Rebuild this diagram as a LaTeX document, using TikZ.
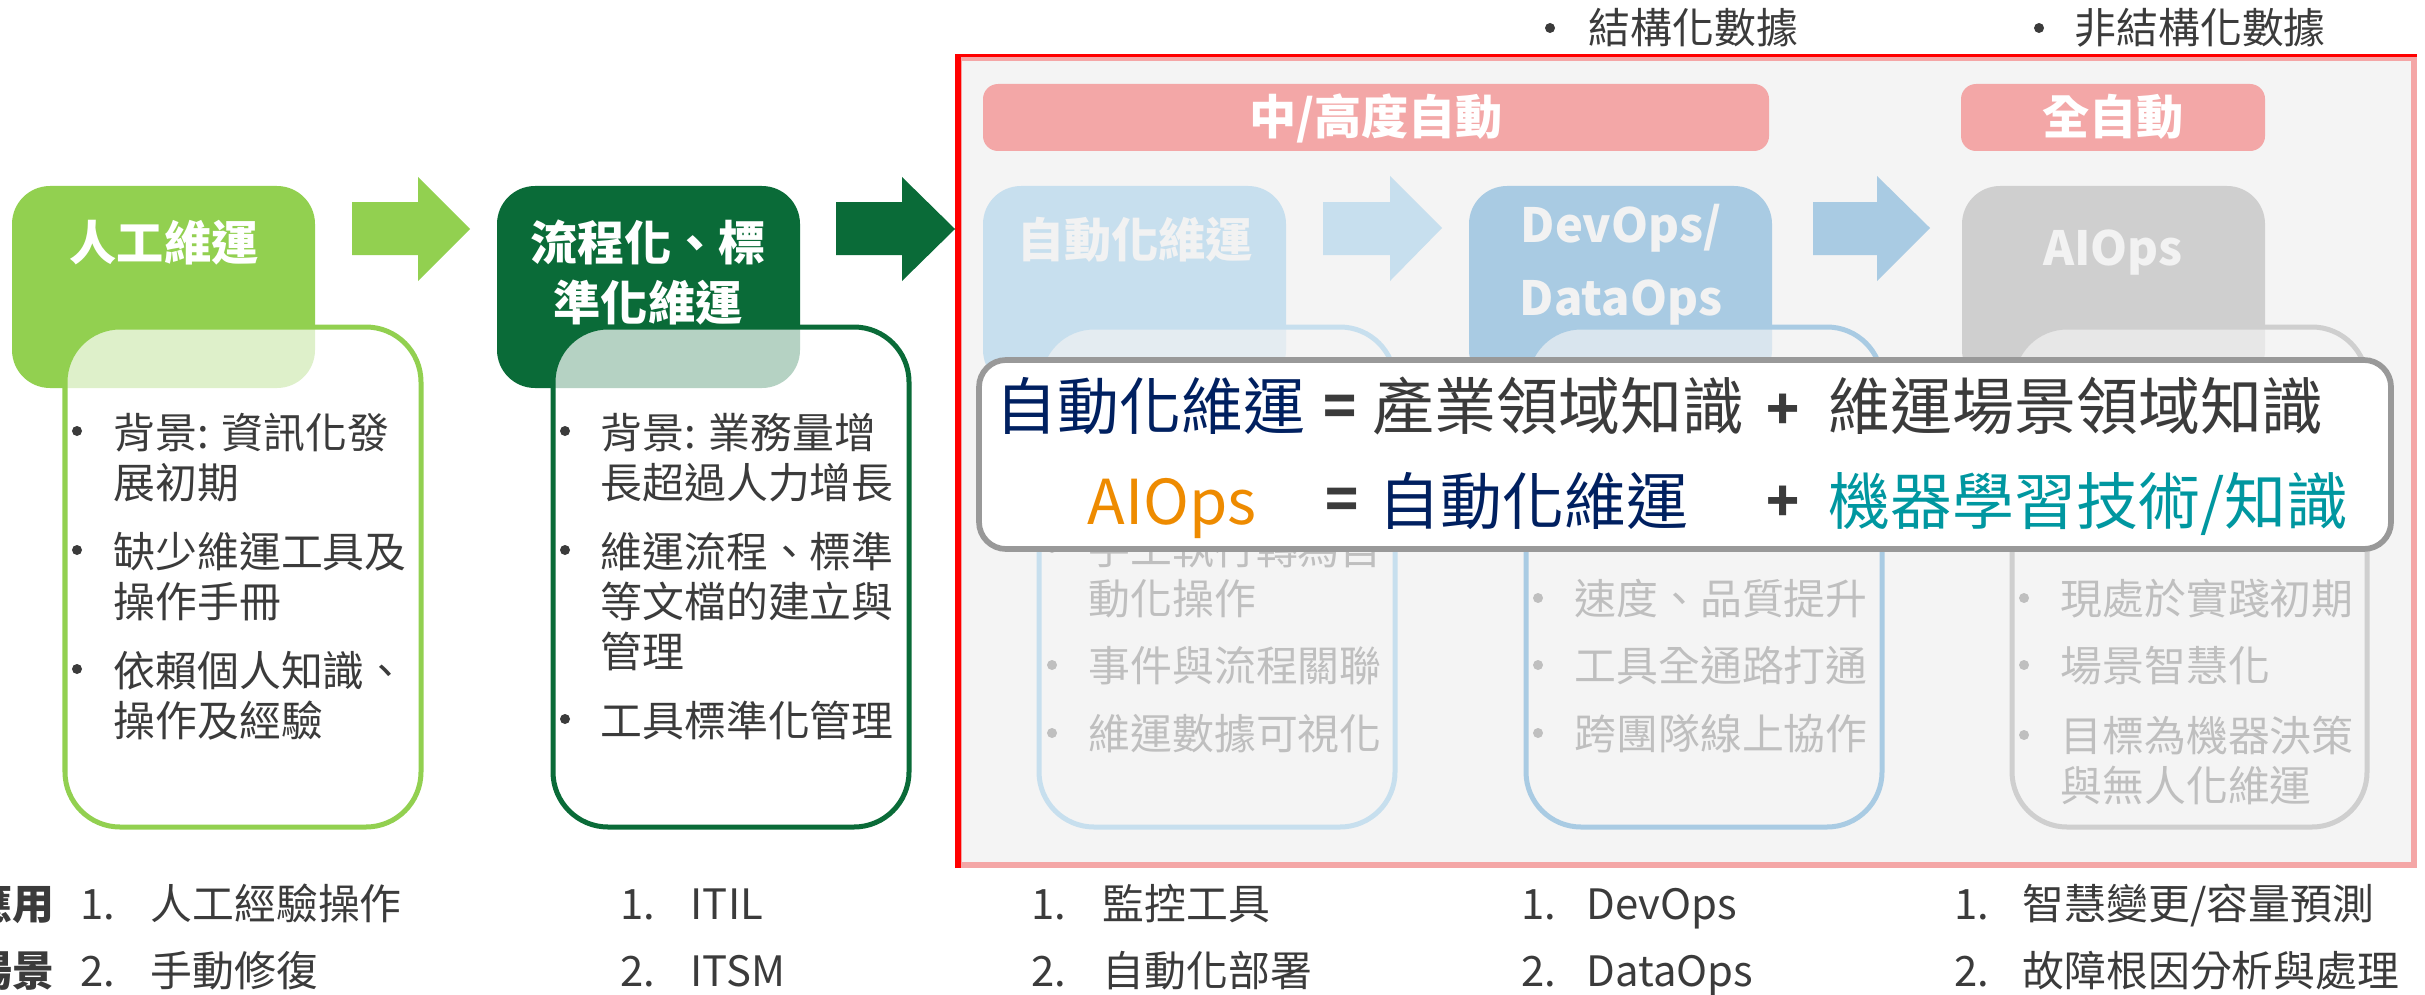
\documentclass[tikz,border=0pt]{standalone}
\usepackage{fontspec}
\setmainfont{Noto Sans CJK TC}
\definecolor{lgreen}{HTML}{92D050}
\definecolor{dgreen}{HTML}{0A6B38}
\definecolor{pinkhdr}{HTML}{F3A7A7}
\definecolor{pinkframe}{HTML}{F4A6A6}
\definecolor{bggray}{HTML}{F4F4F4}
\definecolor{blueA}{HTML}{C7DFEE}
\definecolor{blueB}{HTML}{A9CBE3}
\definecolor{grayC}{HTML}{CFCFCF}
\definecolor{fadetext}{HTML}{BFBFBF}
\definecolor{darktext}{HTML}{3B3B3B}
\definecolor{navy}{HTML}{002060}
\definecolor{teal}{HTML}{0097A0}
\definecolor{orange}{HTML}{EE8B00}
\definecolor{ovborder}{HTML}{999999}
\definecolor{hdrfade}{HTML}{F2F2F2}
\begin{document}
\begin{tikzpicture}[x=0.01cm,y=-0.01cm,
  hdrbox/.style={rounded corners=0.38cm},
  lowbox/.style={rounded corners=0.55cm, line width=0.05cm},
  body/.style={inner sep=0pt, anchor=base west, font=\fontsize{11.9}{14}\selectfont, text=darktext},
  fade/.style={body, text=fadetext},
  dot/.style={circle, inner sep=0pt, minimum size=0.10cm, fill=darktext},
  fadedot/.style={dot, fill=fadetext},
  hdrtext/.style={inner sep=0pt, anchor=base, font=\bfseries\fontsize{13.4}{16}\selectfont, text=white},
  hdrfadetext/.style={hdrtext, text=hdrfade},
  fml/.style={inner sep=0pt, anchor=base west, font=\fontsize{17.6}{20}\selectfont},
  fmlop/.style={inner sep=0pt, anchor=center, font=\bfseries\fontsize{15.5}{18}\selectfont, text=darktext},
  numtext/.style={body},
  sidetext/.style={inner sep=0pt, anchor=base east, font=\bfseries\fontsize{11.9}{14}\selectfont, text=darktext}
]
\useasboundingbox (0,0) rectangle (2425,994);

% ---------- right framed region ----------
\fill[bggray] (959,58) rectangle (2414,865);
\draw[pinkframe, line width=0.057cm] (959,58) rectangle (2414,865);
\draw[red, line width=0.06cm] (958,868) -- (958,54);
\draw[red, line width=0.03cm] (955,55.5) -- (2417,55.5);

% ---------- column 1 ----------
\fill[lgreen, hdrbox] (12,186) rectangle (315,388);
\fill[white, fill opacity=0.7, lowbox] (65,327) rectangle (421,827);
\draw[lgreen, lowbox] (65,327) rectangle (421,827);
\node[hdrtext] (h1t) at (164,260) {人工維運};
\node[dot] (b1a) at (77,431) {};
\node[body] (t1a) at (113,448) {背景: 資訊化發};
\node[body] (t1b) at (113,498) {展初期};
\node[dot] (b1b) at (77,550) {};
\node[body] (t1c) at (113,567) {缺少維運工具及};
\node[body] (t1d) at (113,617) {操作手冊};
\node[dot] (b1c) at (77,669) {};
\node[body] (t1e) at (113,686) {依賴個人知識、};
\node[body] (t1f) at (113,736) {操作及經驗};

% arrow 1
\fill[lgreen] (352,202) -- (418,202) -- (418,177) -- (470,229) -- (418,281) -- (418,255) -- (352,255) -- cycle;

% ---------- column 2 ----------
\fill[dgreen, hdrbox] (497,186) rectangle (800,388);
\fill[white, fill opacity=0.7, lowbox] (553,327) rectangle (909,827);
\draw[dgreen, lowbox] (553,327) rectangle (909,827);
\node[hdrtext] (h2t1) at (648,260) {流程化、標};
\node[hdrtext] (h2t2) at (648,320) {準化維運};
\node[dot] (b2a) at (565,431) {};
\node[body] (t2a) at (600,448) {背景: 業務量增};
\node[body] (t2b) at (600,498) {長超過人力增長};
\node[dot] (b2b) at (565,550) {};
\node[body] (t2c) at (600,567) {維運流程、標準};
\node[body] (t2d) at (600,617) {等文檔的建立與};
\node[body] (t2e) at (600,667) {管理};
\node[dot] (b2c) at (565,719) {};
\node[body] (t2f) at (600,736) {工具標準化管理};

% arrow 2
\fill[dgreen] (836,202) -- (902,202) -- (902,177) -- (955,229) -- (902,281) -- (902,255) -- (836,255) -- cycle;

% ---------- pink headers ----------
\fill[pinkhdr, rounded corners=0.15cm] (983,84) rectangle (1769,151);
\node[hdrtext] (p1t) at (1376,135) {中/高度自動};
\fill[pinkhdr, rounded corners=0.15cm] (1961,84) rectangle (2265,151);
\node[hdrtext] (p2t) at (2113,135) {全自動};

% ---------- column A ----------
\fill[blueA, hdrbox] (983,186) rectangle (1286,388);
\fill[bggray, fill opacity=0.65, lowbox] (1039,327) rectangle (1395,827);
\draw[blueA, lowbox] (1039,327) rectangle (1395,827);
\node[hdrfadetext] (hAt) at (1135,258) {自動化維運};
\node[fadedot] (bAa) at (1052,548) {};
\node[fade] (tAa) at (1088,564) {手工執行轉為自};
\node[fade] (tAb) at (1088,614) {動化操作};
\node[fadedot] (bAb) at (1052,665) {};
\node[fade] (tAc) at (1088,681) {事件與流程關聯};
\node[fadedot] (bAc) at (1052,733) {};
\node[fade] (tAd) at (1088,749) {維運數據可視化};

% arrow 3
\fill[blueA] (1323,202) -- (1390,202) -- (1390,176) -- (1442,228) -- (1390,281) -- (1390,255) -- (1323,255) -- cycle;

% ---------- column B ----------
\fill[blueB, hdrbox] (1469,186) rectangle (1772,388);
\fill[bggray, fill opacity=0.65, lowbox] (1526,327) rectangle (1882,827);
\draw[blueB, lowbox] (1526,327) rectangle (1882,827);
\node[hdrfadetext] (hBt1) at (1621,242) {DevOps/};
\node[hdrfadetext] (hBt2) at (1621,315) {DataOps};
\node[fadedot] (bBa) at (1538,598) {};
\node[fade] (tBa) at (1574,614) {速度、品質提升};
\node[fadedot] (bBb) at (1538,665) {};
\node[fade] (tBb) at (1574,681) {工具全通路打通};
\node[fadedot] (bBc) at (1538,733) {};
\node[fade] (tBc) at (1574,749) {跨團隊線上協作};

% arrow 4
\fill[blueB] (1813,202) -- (1877,202) -- (1877,176) -- (1930,228) -- (1877,281) -- (1877,255) -- (1813,255) -- cycle;

% ---------- column C ----------
\fill[grayC, hdrbox] (1962,186) rectangle (2265,388);
\fill[bggray, fill opacity=0.65, lowbox] (2012,327) rectangle (2367,827);
\draw[grayC, lowbox] (2012,327) rectangle (2367,827);
\node[hdrfadetext] (hCt) at (2113,265) {AIOps};
\node[fadedot] (bCa) at (2024,598) {};
\node[fade] (tCa) at (2060,614) {現處於實踐初期};
\node[fadedot] (bCb) at (2024,665) {};
\node[fade] (tCb) at (2060,681) {場景智慧化};
\node[fadedot] (bCc) at (2024,735) {};
\node[fade] (tCc) at (2060,751) {目標為機器決策};
\node[fade] (tCd) at (2060,801) {與無人化維運};

% ---------- formula overlay ----------
\draw[ovborder, fill=white, line width=0.057cm, rounded corners=0.27cm] (979,360) rectangle (2391,549);
\node[fml, text=navy] (f1a) at (995,429) {自動化維運};
\node[fmlop] (f1b) at (1340,411) {=};
\node[fml, text=darktext] (f1c) at (1372,429) {產業領域知識};
\node[fmlop] (f1d) at (1783,412) {+};
\node[fml, text=darktext] (f1e) at (1828,429) {維運場景領域知識};
\node[fml, text=orange] (f2a) at (1087,524) {AIOps};
\node[fmlop] (f2b) at (1342,504) {=};
\node[fml, text=navy] (f2c) at (1378,524) {自動化維運};
\node[fmlop] (f2d) at (1783,504) {+};
\node[fml, text=teal] (f2e) at (1828,524) {機器學習技術/知識};

% ---------- top labels ----------
\node[dot] (tb1) at (1550,28) {};
\node[body] (tl1) at (1588,44) {結構化數據};
\node[dot] (tb2) at (2039,28) {};
\node[body] (tl2) at (2074,44) {非結構化數據};

% ---------- bottom rows ----------
\node[sidetext] (s1) at (55,919) {應用};
\node[sidetext] (s2) at (55,986) {場景};
\node[numtext] (n11) at (80,919) {1.};
\node[body] (i11) at (150,919) {人工經驗操作};
\node[numtext] (n12) at (80,986) {2.};
\node[body] (i12) at (150,986) {手動修復};
\node[numtext] (n21) at (620,919) {1.};
\node[body] (i21) at (690,919) {ITIL};
\node[numtext] (n22) at (620,986) {2.};
\node[body] (i22) at (690,986) {ITSM};
\node[numtext] (n31) at (1031,919) {1.};
\node[body] (i31) at (1102,919) {監控工具};
\node[numtext] (n32) at (1031,986) {2.};
\node[body] (i32) at (1102,986) {自動化部署};
\node[numtext] (n41) at (1521,919) {1.};
\node[body] (i41) at (1586,919) {DevOps};
\node[numtext] (n42) at (1521,986) {2.};
\node[body] (i42) at (1586,986) {DataOps};
\node[numtext] (n51) at (1954,919) {1.};
\node[body] (i51) at (2022,919) {智慧變更/容量預測};
\node[numtext] (n52) at (1954,986) {2.};
\node[body] (i52) at (2022,986) {故障根因分析與處理};
\end{tikzpicture}
\end{document}
